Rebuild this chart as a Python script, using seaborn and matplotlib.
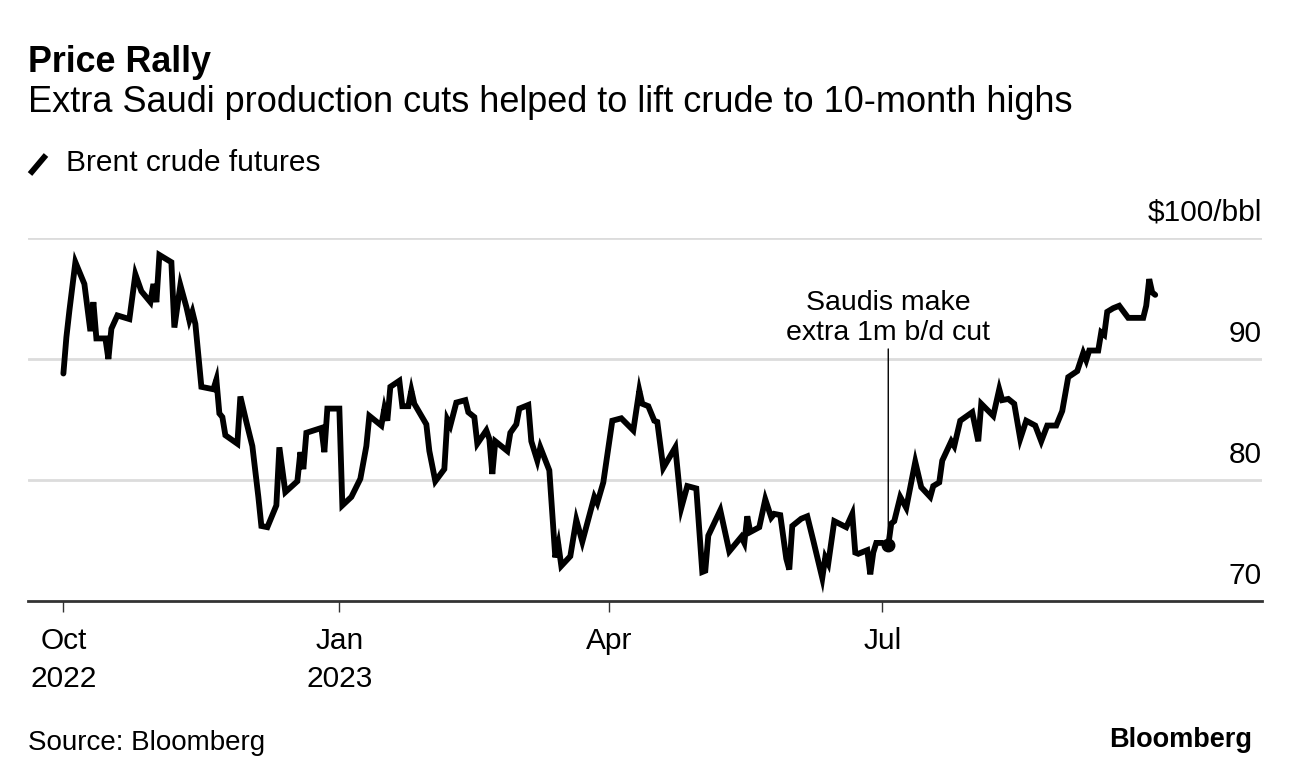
import matplotlib
matplotlib.use("Agg")
import matplotlib.pyplot as plt
from matplotlib.lines import Line2D
import pandas as pd
import seaborn as sns

# ─── Data ─────────────────────────────────────────────────────────────────────
START = "2022-10-01"
day_offset = [
    0, 1, 2, 4, 7, 9, 10, 11, 14, 15, 16, 18, 22, 24, 26, 29, 30, 31, 32, 36,
    37, 39, 41, 42, 43, 44, 46, 50, 51, 52, 53, 54, 58, 59, 61, 63, 65, 66, 68, 71,
    72, 74, 78, 79, 80, 81, 86, 87, 88, 92, 93, 96, 99, 101, 102, 106, 107, 108, 109, 112,
    113, 115, 116, 117, 121, 122, 124, 127, 128, 129, 131, 134, 135, 137, 138, 141, 142, 143, 144, 148,
    149, 151, 152, 155, 156, 158, 159, 162, 164, 165, 166, 169, 171, 173, 177, 178, 180, 183, 186, 190,
    192, 193, 195, 197, 198, 200, 204, 206, 208, 211, 213, 214, 215, 219, 222, 223, 226, 227, 228, 229,
    232, 234, 236, 237, 239, 241, 242, 243, 246, 248, 250, 253, 254, 255, 257, 261, 263, 264, 265, 268,
    269, 270, 271, 273, 275, 276, 277, 279, 281, 284, 286, 289, 290, 292, 293, 296, 297, 299, 303, 305,
    306, 310, 312, 313, 315, 317, 319, 321, 324, 326, 328, 331, 333, 335, 338, 340, 341, 342, 345, 346,
    347, 348, 350, 352, 355, 360, 361, 362, 363, 364,
]
brent = [
    88.8, 91.8, 94.0, 98.0, 96.2, 92.3, 94.7, 91.7, 91.7, 90.0, 92.5, 93.6, 93.3, 97.0, 95.6, 94.7, 96.2, 94.7, 98.6, 98.0,
    92.6, 96.1, 94.3, 93.2, 93.9, 92.9, 87.7, 87.5, 88.3, 85.5, 85.2, 83.7, 83.0, 86.9, 84.8, 82.8, 78.6, 76.2, 76.1, 77.9,
    82.7, 79.0, 79.9, 82.3, 80.9, 83.9, 84.3, 82.3, 85.9, 85.9, 77.9, 78.6, 80.1, 82.8, 85.3, 84.5, 85.9, 84.9, 87.7, 88.2,
    86.1, 86.1, 87.4, 86.3, 84.6, 82.4, 79.9, 80.9, 85.0, 84.5, 86.4, 86.6, 85.6, 85.2, 83.0, 84.1, 83.4, 80.5, 83.2, 82.4,
    83.9, 84.6, 85.9, 86.2, 83.2, 81.6, 82.7, 80.8, 73.6, 74.7, 72.9, 73.7, 76.7, 74.9, 78.6, 78.1, 79.8, 84.9, 85.1, 84.1,
    87.4, 86.3, 86.1, 84.9, 84.8, 81.0, 82.7, 77.7, 79.5, 79.3, 72.4, 72.5, 75.4, 77.5, 74.1, 74.4, 75.3, 74.8, 77.0, 75.7,
    76.1, 78.4, 76.9, 77.2, 77.1, 73.5, 72.6, 76.2, 76.8, 77.0, 75.0, 71.9, 73.6, 73.1, 76.6, 76.1, 77.2, 74.0, 73.9, 74.2,
    72.2, 74.0, 74.8, 74.8, 74.6, 76.4, 76.6, 78.6, 77.7, 81.5, 79.4, 78.6, 79.5, 79.8, 81.6, 83.2, 82.8, 84.9, 85.6, 83.2,
    86.3, 85.3, 87.5, 86.6, 86.7, 86.3, 83.4, 84.9, 84.5, 83.2, 84.5, 84.5, 85.7, 88.5, 89.0, 90.5, 89.9, 90.7, 90.7, 92.2,
    92.0, 93.9, 94.2, 94.4, 93.4, 93.4, 94.4, 96.6, 95.5, 95.3,
]

tick_dates = ["2022-10-01", "2023-01-01", "2023-04-01", "2023-07-01"]
tick_labels = ["Oct\n2022", "Jan\n2023", "Apr", "Jul"]
y_ticks = [70, 80, 90, 100]
y_tick_labels = ["70", "80", "90", "$100/bbl"]

event_date = "2023-07-03"
event_price = 74.6
event_text = "Saudis make\nextra 1m b/d cut"

TITLE = "Price Rally"
SUBTITLE = "Extra Saudi production cuts helped to lift crude to 10-month highs"
LEGEND = "Brent crude futures"
SOURCE = "Source: Bloomberg"

GRID = "#dcdcdc"
AXIS = "#333333"
FONT = ["Liberation Sans", "DejaVu Sans"]
LABEL_SIZE = 21.5

df = pd.DataFrame({
    "date": pd.Timestamp(START) + pd.to_timedelta(day_offset, unit="D"),
    "price": brent,
})

# ─── Figure ───────────────────────────────────────────────────────────────────
sns.set_theme(style="white")
plt.rcParams["font.family"] = FONT
plt.rcParams.update({"text.color": "black", "xtick.color": "black",
                     "ytick.color": "black", "axes.labelcolor": "black"})

W, H = 1292, 784
fig = plt.figure(figsize=(W / 100, H / 100), dpi=100, facecolor="white")
ax = fig.add_axes([28 / W, 1 - 601 / H, (1262 - 28) / W, (601 - 238) / H])

sns.lineplot(data=df, x="date", y="price", ax=ax, color="black", lw=4.2,
             solid_joinstyle="miter", clip_on=False)

ax.set_ylim(70, 100)
x0 = pd.Timestamp(START)
ax.set_xlim(x0 - pd.Timedelta(days=11.8), x0 + pd.Timedelta(days=399.6))

# gridlines and baseline
for v in y_ticks[1:]:
    ax.axhline(v, color=GRID, lw=2, zorder=0)
for s in ["top", "right", "left"]:
    ax.spines[s].set_visible(False)
ax.spines["bottom"].set_color(AXIS)
ax.spines["bottom"].set_linewidth(2)

# right-side value labels sitting above each line
ax.set_yticks([])
for v, lab in zip(y_ticks, y_tick_labels):
    ax.annotate(lab, xy=(1, v), xycoords=("axes fraction", "data"),
                xytext=(0, 8), textcoords="offset points",
                ha="right", va="bottom", fontsize=LABEL_SIZE, color="black")

ax.set_xticks(pd.to_datetime(tick_dates))
ax.set_xticklabels(tick_labels, fontsize=LABEL_SIZE, linespacing=1.42)
ax.tick_params(axis="x", length=8, width=1, color=AXIS, pad=11, direction="out",
               bottom=True)
ax.set_xlabel("")
ax.set_ylabel("")

# event marker & annotation
ev = pd.Timestamp(event_date)
ax.plot([ev], [event_price], "o", color="black", ms=9, zorder=5)
ax.annotate(event_text, xy=(ev, event_price), xytext=(ev, 91.1),
            textcoords="data", ha="center", va="bottom", fontsize=20.5,
            linespacing=1.2,
            arrowprops=dict(arrowstyle="-", color="black", lw=1,
                            shrinkA=0, shrinkB=0))

# ─── Header / footer ──────────────────────────────────────────────────────────
fig.text(28 / W, 1 - 62 / H, TITLE, fontsize=25.8, fontweight="bold", va="center", ha="left")
fig.text(28 / W, 1 - 103 / H, SUBTITLE, fontsize=26, va="center", ha="left")
fig.add_artist(Line2D([30 / W, 46 / W], [1 - 174 / H, 1 - 155 / H],
                      color="black", lw=4.2, solid_capstyle="butt"))
fig.text(66 / W, 1 - 163 / H, LEGEND, fontsize=LABEL_SIZE, va="center", ha="left")
fig.text(28 / W, 1 - 743 / H, SOURCE, fontsize=20, va="center", ha="left")
fig.text(1252 / W, 1 - 740 / H, "Bloomberg", fontsize=19.5, fontweight="bold",
         va="center", ha="right")

fig.savefig("out.png", dpi=100, facecolor="white")
